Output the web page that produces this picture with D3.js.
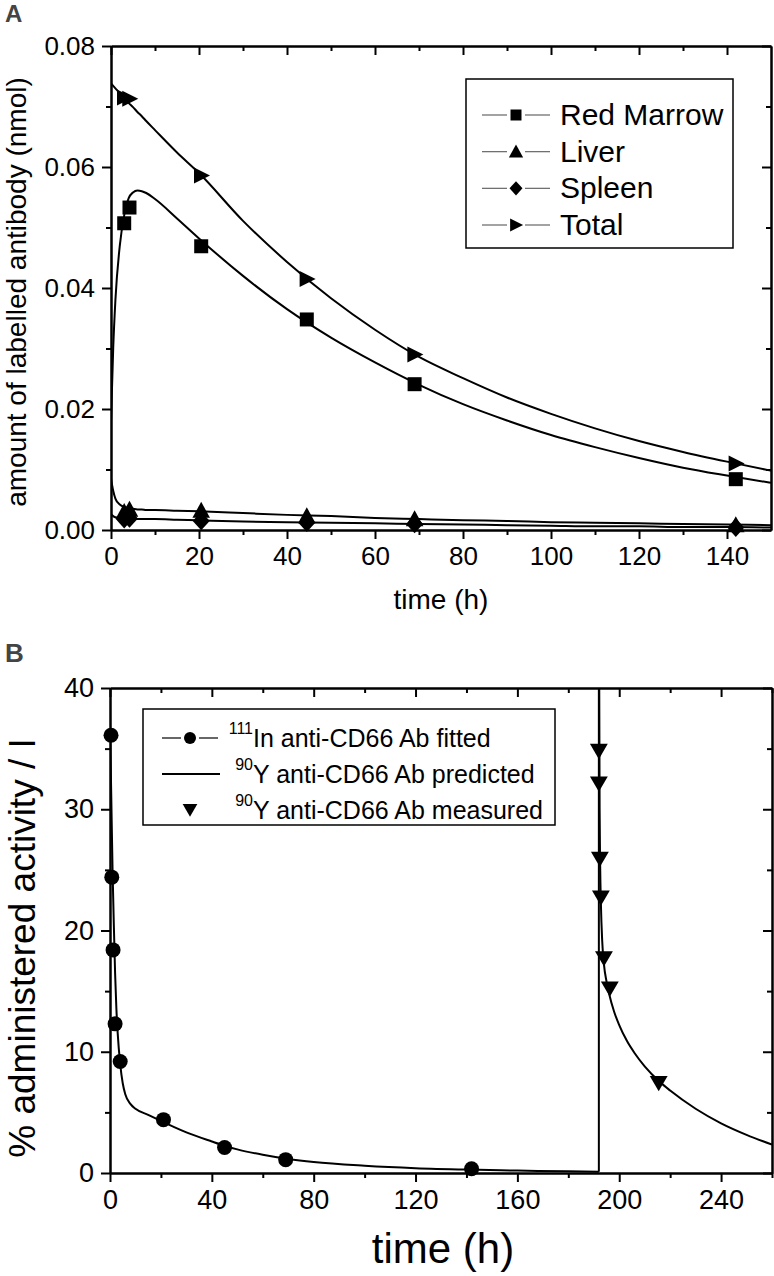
<!DOCTYPE html>
<html><head><meta charset="utf-8">
<script src="https://cdn.jsdelivr.net/npm/d3@7"></script>
<style>
body{margin:0;background:#fff}
svg{display:block}
text{font-family:"Liberation Sans",Arial,Helvetica,sans-serif;fill:#000}
</style>
</head><body>
<svg id="c" width="774" height="1276"></svg>
<script>
// ---------- Panel A data ----------
const seriesA = ["Red Marrow", "Liver", "Spleen", "Total"];
const timesA = [3, 4.2, 20.5, 44.5, 69, 142];
const redMarrow = [0.0507, 0.0533, 0.0469, 0.0348, 0.0241, 0.0084];
const liver = [0.0030, 0.0034, 0.0032, 0.0023, 0.0018, 0.0008];
const spleen = [0.0018, 0.0019, 0.0015, 0.0012, 0.0010, 0.0004];
const total = [0.0715, 0.0713, 0.0586, 0.0415, 0.0290, 0.0110];
const fitTimesA = [0, 0.5, 1, 2, 3, 4, 5, 6, 7, 8, 10, 15, 20, 30, 40, 50, 60, 70, 80, 90, 100, 110, 120, 130, 140, 150];
const fitRedMarrow = [0.018, 0.030, 0.038, 0.047, 0.052, 0.0548, 0.0558, 0.0561, 0.0560, 0.0557, 0.0547, 0.0515, 0.0482, 0.0420, 0.0365, 0.0318, 0.0277, 0.0240, 0.0208, 0.0181, 0.0157, 0.0137, 0.0119, 0.0103, 0.0090, 0.0078];
const fitLiver = [0.0085, 0.0065, 0.0052, 0.0042, 0.0038, 0.0036, 0.0035, 0.0034, 0.0034, 0.0033, 0.0033, 0.0032, 0.0031, 0.0028, 0.0025, 0.0023, 0.0020, 0.0018, 0.0016, 0.0015, 0.0013, 0.0012, 0.0011, 0.0010, 0.0009, 0.0008];
const fitSpleen = [0.0026, 0.0023, 0.0021, 0.0020, 0.0019, 0.0019, 0.0019, 0.0018, 0.0018, 0.0018, 0.0018, 0.0017, 0.0016, 0.0014, 0.0013, 0.0012, 0.0011, 0.0010, 0.0009, 0.0008, 0.0007, 0.0006, 0.0006, 0.0005, 0.0005, 0.0004];
const fitTotal = [0.0738, 0.0734, 0.0730, 0.0722, 0.0714, 0.0706, 0.0699, 0.0691, 0.0684, 0.0676, 0.0661, 0.0624, 0.0590, 0.0511, 0.0443, 0.0383, 0.0331, 0.0286, 0.0251, 0.0219, 0.0192, 0.0168, 0.0147, 0.0129, 0.0113, 0.0098];
const xTicksA = [0, 20, 40, 60, 80, 100, 120, 140];
const xMinorA = [10, 30, 50, 70, 90, 110, 130];
const yTicksA = [0, 0.02, 0.04, 0.06, 0.08];
const yMinorA = [0.01, 0.03, 0.05, 0.07];

// ---------- Panel B data ----------
const legendB = ["anti-CD66 Ab fitted", "anti-CD66 Ab predicted", "anti-CD66 Ab measured"];
const legendSupB = ["111", "90", "90"];
const legendIsoB = ["In", "Y", "Y"];
const inTimes = [0.4, 0.7, 1.2, 2, 4, 21, 45, 69, 142];
const inValues = [36.1, 24.4, 18.4, 12.3, 9.2, 4.4, 2.1, 1.1, 0.35];
const inFitTimes = [0, 0.5, 1, 1.5, 2, 2.5, 3, 4, 5, 6, 8, 10, 15, 20, 25, 30, 40, 45, 50, 60, 70, 80, 100, 120, 140, 160, 180, 192];
const inFitValues = [37, 31, 25, 20.5, 16.5, 13.6, 11.6, 9.0, 7.4, 6.5, 5.7, 5.3, 4.8, 4.3, 3.8, 3.35, 2.6, 2.25, 1.95, 1.5, 1.15, 0.9, 0.6, 0.4, 0.28, 0.2, 0.14, 0.1];
const yPredTimes = [192, 192, 192.15, 192.3, 192.5, 192.8, 193.3, 194, 195, 196, 198, 200, 203, 206, 210, 216, 220, 230, 240, 250, 260];
const yPredValues = [0.1, 60, 40, 30, 25.5, 22.2, 19.2, 17.2, 15.8, 14.8, 13.3, 12.2, 10.9, 9.9, 8.8, 7.5, 6.8, 5.3, 4.1, 3.15, 2.35];
const yMeasTimes = [192, 192, 192.4, 192.8, 194, 196.3, 215.5];
const yMeasValues = [34.8, 32.1, 25.9, 22.7, 17.7, 15.2, 7.4];
const xTicksB = [0, 40, 80, 120, 160, 200, 240];
const xMinorB = [20, 60, 100, 140, 180, 220, 260];
const yTicksB = [0, 10, 20, 30, 40];
const yMinorB = [5, 15, 25, 35];

const svg = d3.select("#c");
const FONT = '"Liberation Sans",Arial,sans-serif';

function markerPath(type, cx, cy, s) {
  const h = s / 2;
  switch (type) {
    case "square": return `M${cx-h},${cy-h}H${cx+h}V${cy+h}H${cx-h}Z`;
    case "triUp": return `M${cx},${cy-h*1.1}L${cx+h*1.1},${cy+h*0.9}L${cx-h*1.1},${cy+h*0.9}Z`;
    case "diamond": return `M${cx},${cy-h*1.1}L${cx+h},${cy}L${cx},${cy+h*1.1}L${cx-h},${cy}Z`;
    case "triRight": return `M${cx-h*0.9},${cy-h}L${cx+h*1.1},${cy}L${cx-h*0.9},${cy+h}Z`;
    case "triDown": return `M${cx-h*1.05},${cy-h*0.85}L${cx+h*1.05},${cy-h*0.85}L${cx},${cy+h*0.95}Z`;
  }
}

function frame(g, x, y, xt, xm, yt, ym, yfmt, fs) {
  const styleAxis = sel => {
    sel.selectAll("path.domain").attr("stroke", "#000").attr("stroke-width", 2);
    sel.selectAll(".tick line").attr("stroke", "#000").attr("stroke-width", 2);
    sel.selectAll(".tick text").attr("font-size", fs).attr("font-family", FONT).attr("fill", "#000");
  };
  const [x0, x1] = x.range(), [y0, y1] = y.range();
  g.append("g").attr("transform", `translate(0,${y0})`)
    .call(d3.axisBottom(x).tickValues(xt).tickSize(9).tickSizeOuter(0).tickPadding(8).tickFormat(d3.format("d"))).call(styleAxis);
  g.append("g").attr("transform", `translate(0,${y0})`)
    .call(d3.axisBottom(x).tickValues(xm).tickSize(5).tickSizeOuter(0).tickFormat("")).call(styleAxis);
  g.append("g").attr("transform", `translate(0,${y1})`)
    .call(d3.axisTop(x).tickValues(xt).tickSize(-9).tickSizeOuter(0).tickFormat("")).call(styleAxis);
  g.append("g").attr("transform", `translate(0,${y1})`)
    .call(d3.axisTop(x).tickValues(xm).tickSize(-5).tickSizeOuter(0).tickFormat("")).call(styleAxis);
  g.append("g").attr("transform", `translate(${x0},0)`)
    .call(d3.axisLeft(y).tickValues(yt).tickSize(9).tickSizeOuter(0).tickPadding(7).tickFormat(yfmt)).call(styleAxis);
  g.append("g").attr("transform", `translate(${x0},0)`)
    .call(d3.axisLeft(y).tickValues(ym).tickSize(5).tickSizeOuter(0).tickFormat("")).call(styleAxis);
  g.append("g").attr("transform", `translate(${x1},0)`)
    .call(d3.axisRight(y).tickValues(yt).tickSize(-9).tickSizeOuter(0).tickFormat("")).call(styleAxis);
  g.append("g").attr("transform", `translate(${x1},0)`)
    .call(d3.axisRight(y).tickValues(ym).tickSize(-5).tickSizeOuter(0).tickFormat("")).call(styleAxis);
}

// ================= Panel A =================
const xA = d3.scaleLinear().domain([0, 150]).range([111, 771]);
const yA = d3.scaleLinear().domain([0, 0.08]).range([530, 46]);
const gA = svg.append("g");
svg.append("defs").append("clipPath").attr("id", "clipA")
  .append("rect").attr("x", 111).attr("y", 46).attr("width", 660).attr("height", 484);

const lineA = d3.line().x(d => xA(d[0])).y(d => yA(d[1])).curve(d3.curveMonotoneX);
[fitRedMarrow, fitLiver, fitSpleen, fitTotal].forEach(vals => {
  gA.append("path").attr("clip-path", "url(#clipA)")
    .attr("d", lineA(fitTimesA.map((t, i) => [t, vals[i]])))
    .attr("fill", "none").attr("stroke", "#000").attr("stroke-width", 2);
});
const markersA = [
  {vals: redMarrow, type: "square", s: 14},
  {vals: liver, type: "triUp", s: 16},
  {vals: spleen, type: "diamond", s: 17},
  {vals: total, type: "triRight", s: 16}
];
markersA.forEach(m => {
  gA.selectAll(null).data(timesA.map((t, i) => [t, m.vals[i]])).enter().append("path")
    .attr("d", d => markerPath(m.type, xA(d[0]), yA(d[1]), m.s)).attr("fill", "#000");
});
frame(gA, xA, yA, xTicksA, xMinorA, yTicksA, yMinorA, d3.format(".2f"), 26);

gA.append("text").attr("x", 441).attr("y", 609).attr("text-anchor", "middle")
  .attr("font-size", 28).text("time (h)");
gA.append("text").attr("transform", "translate(26,292) rotate(-90)").attr("text-anchor", "middle")
  .attr("font-size", 28).text("amount of labelled antibody (nmol)");
gA.append("text").attr("x", 5).attr("y", 22).attr("font-size", 24).attr("font-weight", "bold")
  .style("fill", "#444").text("A");

// legend A
const legA = gA.append("g");
legA.append("rect").attr("x", 466).attr("y", 79).attr("width", 267).attr("height", 169)
  .attr("fill", "#fff").attr("stroke", "#000").attr("stroke-width", 1.5);
const legTypes = ["square", "triUp", "diamond", "triRight"];
const legRow = d3.scaleLinear().domain([0, 3]).range([115, 225]);
seriesA.forEach((name, i) => {
  const cy = legRow(i);
  legA.append("line").attr("x1", 482).attr("x2", 507).attr("y1", cy).attr("y2", cy)
    .attr("stroke", "#666").attr("stroke-width", 1.2);
  legA.append("line").attr("x1", 525).attr("x2", 550).attr("y1", cy).attr("y2", cy)
    .attr("stroke", "#666").attr("stroke-width", 1.2);
  legA.append("path").attr("d", markerPath(legTypes[i], 516, cy, i === 0 ? 11 : 13)).attr("fill", "#000");
  legA.append("text").attr("x", 560).attr("y", cy + 10).attr("font-size", 30).text(name);
});

// ================= Panel B =================
const xB = d3.scaleLinear().domain([0, 260]).range([110, 772]);
const yB = d3.scaleLinear().domain([0, 40]).range([1173, 688]);
const gB = svg.append("g");
svg.select("defs").append("clipPath").attr("id", "clipB")
  .append("rect").attr("x", 110).attr("y", 688).attr("width", 662).attr("height", 485);

const lineBm = d3.line().x(d => xB(d[0])).y(d => yB(d[1])).curve(d3.curveMonotoneX);
const lineBl = d3.line().x(d => xB(d[0])).y(d => yB(d[1]));
gB.append("path").attr("clip-path", "url(#clipB)")
  .attr("d", lineBm(inFitTimes.map((t, i) => [t, inFitValues[i]])))
  .attr("fill", "none").attr("stroke", "#000").attr("stroke-width", 2);
const pred = yPredTimes.map((t, i) => [t, yPredValues[i]]);
gB.append("path").attr("clip-path", "url(#clipB)")
  .attr("d", lineBl(pred.slice(0, 2)))
  .attr("fill", "none").attr("stroke", "#000").attr("stroke-width", 2);
gB.append("path").attr("clip-path", "url(#clipB)")
  .attr("d", lineBm(pred.slice(1).map((d, i) => i === 0 ? [d[0] - 0.001, d[1]] : d)))
  .attr("fill", "none").attr("stroke", "#000").attr("stroke-width", 2);

gB.selectAll(null).data(inTimes.map((t, i) => [t, inValues[i]])).enter().append("circle")
  .attr("cx", d => xB(d[0])).attr("cy", d => yB(d[1])).attr("r", 7.5).attr("fill", "#000");
gB.selectAll(null).data(yMeasTimes.map((t, i) => [t, yMeasValues[i]])).enter().append("path")
  .attr("d", d => markerPath("triDown", xB(d[0]), yB(d[1]), 17)).attr("fill", "#000");

frame(gB, xB, yB, xTicksB, xMinorB, yTicksB, yMinorB, d3.format("d"), 27);

gB.append("text").attr("x", 443).attr("y", 1263).attr("text-anchor", "middle")
  .attr("font-size", 42).text("time (h)");
gB.append("text").attr("transform", "translate(35,948) rotate(-90)").attr("text-anchor", "middle")
  .attr("font-size", 37).text("% administered activity / I");
gB.append("text").attr("x", 5).attr("y", 662).attr("font-size", 26).attr("font-weight", "bold")
  .style("fill", "#444").text("B");

// legend B
const legB = gB.append("g");
legB.append("rect").attr("x", 143).attr("y", 709).attr("width", 412).attr("height", 116)
  .attr("fill", "#fff").attr("stroke", "#000").attr("stroke-width", 1.5);
const legRowB = d3.scaleLinear().domain([0, 2]).range([738, 810]);
legendB.forEach((name, i) => {
  const cy = legRowB(i);
  if (i === 0) {
    legB.append("line").attr("x1", 162).attr("x2", 181).attr("y1", cy).attr("y2", cy)
      .attr("stroke", "#000").attr("stroke-width", 1.2);
    legB.append("line").attr("x1", 199).attr("x2", 218).attr("y1", cy).attr("y2", cy)
      .attr("stroke", "#000").attr("stroke-width", 1.2);
    legB.append("circle").attr("cx", 190).attr("cy", cy).attr("r", 6).attr("fill", "#000");
  } else if (i === 1) {
    legB.append("line").attr("x1", 162).attr("x2", 220).attr("y1", cy).attr("y2", cy)
      .attr("stroke", "#000").attr("stroke-width", 2);
  } else {
    legB.append("path").attr("d", markerPath("triDown", 190, cy, 14)).attr("fill", "#000");
  }
  legB.append("text").attr("x", 253).attr("y", cy - 4).attr("text-anchor", "end")
    .attr("font-size", 16).text(legendSupB[i]);
  legB.append("text").attr("x", 253).attr("y", cy + 9).attr("font-size", 25)
    .text(legendIsoB[i] + " " + name);
});
</script>
</body></html>
